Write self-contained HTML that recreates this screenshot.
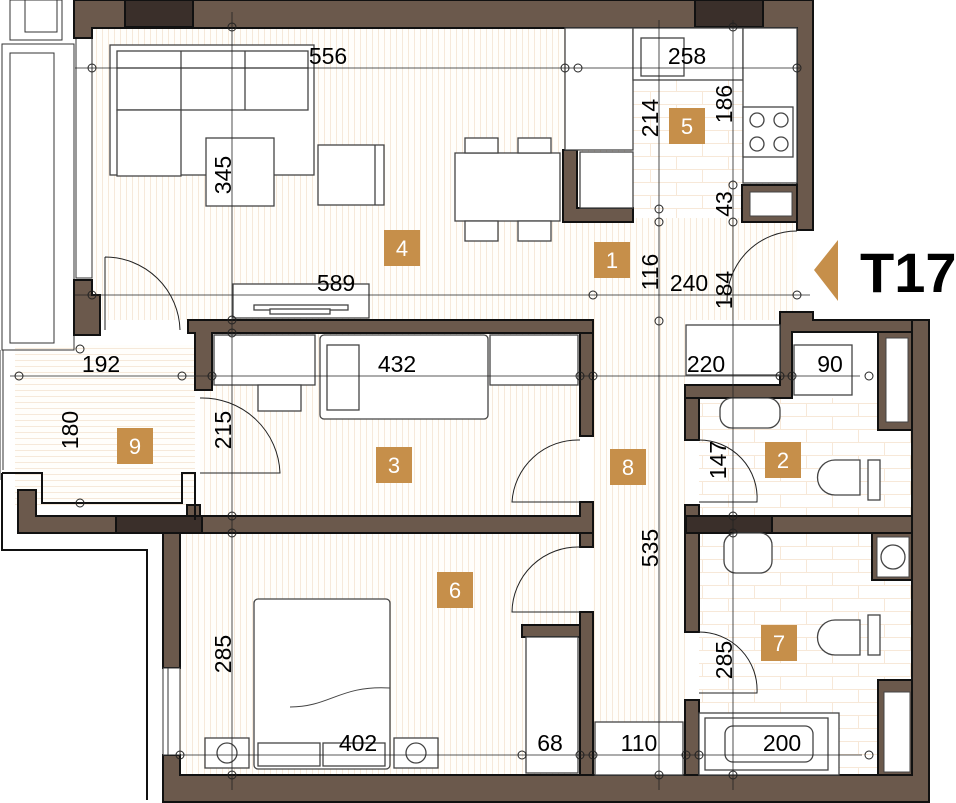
<!DOCTYPE html>
<html><head><meta charset="utf-8"><style>
html,body{margin:0;padding:0;background:#fff;}
svg{display:block;}
text{font-family:"Liberation Sans",sans-serif;}
</style></head><body>
<svg width="956" height="803" viewBox="0 0 956 803" xmlns="http://www.w3.org/2000/svg">
<defs>
<pattern id="vs" width="6" height="10" patternUnits="userSpaceOnUse"><rect width="6" height="10" fill="#fffefb"/><line x1="0.5" y1="0" x2="0.5" y2="10" stroke="#f6e9da" stroke-width="1"/></pattern>
<pattern id="hs" width="10" height="6" patternUnits="userSpaceOnUse"><rect width="10" height="6" fill="#fffefb"/><line x1="0" y1="0.5" x2="10" y2="0.5" stroke="#f6e9da" stroke-width="1"/></pattern>
<pattern id="tile" width="52" height="26" patternUnits="userSpaceOnUse"><rect width="52" height="26" fill="#fff"/><path d="M0 0.5H52M0 13.5H52M0.5 0V13M26.5 13V26" stroke="#f7e8d8" stroke-width="1" fill="none"/></pattern>
</defs>

<rect x="92" y="28" width="705" height="292" fill="url(#vs)"/>
<rect x="593" y="320" width="92" height="455" fill="url(#vs)"/>
<rect x="200" y="333" width="380" height="183" fill="url(#vs)"/>
<rect x="180" y="533" width="400" height="242" fill="url(#vs)"/>
<rect x="15" y="345" width="180" height="160" fill="url(#hs)"/>
<rect x="633" y="28" width="110" height="190" fill="url(#tile)"/>
<rect x="699" y="398" width="213" height="118" fill="url(#tile)"/>
<rect x="699" y="533" width="213" height="242" fill="url(#tile)"/>

<g fill="none" stroke="#333" stroke-width="1">
<rect x="10" y="0" width="52" height="40"/><rect x="25" y="0" width="32" height="32"/>
<rect x="2" y="44" width="72" height="306"/><rect x="10" y="53" width="44" height="290"/>
<rect x="76" y="38" width="16" height="240"/>
<line x1="0" y1="350" x2="0" y2="480"/>
<line x1="3" y1="350" x2="3" y2="470"/>
</g>

<g fill="#6b594c" stroke="#111" stroke-width="2">
<path d="M74 0H813V230H797V28H92V38H74Z"/>
<path d="M74 280H92V295H100V335H74Z"/>
<path d="M188 320H593V333H212V390H195V333H188Z"/>
<path d="M580 333H593V436H580Z"/>
<path d="M18 490H36V516H580V502H593V533H180V668H163V533H18Z"/>
<path d="M580 533H593V547H580Z"/>
<path d="M580 612H593V775H580Z"/>
<path d="M522 625H580V637H522Z"/>
<path d="M163 755H180V775H912V320H929V802H163Z"/>
<path d="M780 312H813V320H912V332H792V398H685V385H780Z"/>
<path d="M878 332H912V430H878Z" />
<path d="M872 533H912V580H872Z"/>
<path d="M878 680H912V775H878Z"/>
<path d="M685 398H699V440H685Z"/>
<path d="M685 505H699V632H685Z"/>
<path d="M685 516H912V533H685Z"/>
<path d="M685 700H699V775H685Z"/>
<path d="M563 150H577V208H633V222H563Z"/>
<path d="M742 185H797V222H742Z"/>
<path d="M187 505H200V516H187Z"/>
</g>
<g fill="#fff" stroke="#444" stroke-width="1">
<rect x="886" y="338" width="22" height="84"/>
<rect x="877" y="537" width="32" height="40"/>
<rect x="884" y="692" width="26" height="80"/>
<rect x="750" y="192" width="42" height="24"/>
</g>
<g fill="#3a2f2a" stroke="#111" stroke-width="2">
<rect x="125" y="0" width="68" height="27"/>
<rect x="695" y="0" width="68" height="27"/>
<rect x="116" y="516" width="86" height="17"/>
<rect x="686" y="516" width="86" height="17"/>
</g>
<path d="M2 473H42V503H182V473H195V520" fill="none" stroke="#111" stroke-width="2"/>
<path d="M2 473V550H147V800" fill="none" stroke="#111" stroke-width="2"/>
<rect x="163" y="668" width="17" height="87" fill="#fff" stroke="#333"/>
<line x1="168" y1="668" x2="168" y2="755" stroke="#333"/>

<g fill="#fff" stroke="#444" stroke-width="1.3">
<rect x="110" y="45" width="204" height="130"/>
<rect x="117" y="51" width="191" height="59"/>
<line x1="117" y1="68" x2="308" y2="68"/>
<line x1="181" y1="51" x2="181" y2="110"/><line x1="245" y1="51" x2="245" y2="110"/>
<rect x="117" y="110" width="64" height="66"/>
<rect x="206" y="138" width="68" height="68"/>
<rect x="318" y="145" width="66" height="60"/><line x1="375" y1="145" x2="375" y2="205"/>
<rect x="455" y="153" width="105" height="68"/>
<rect x="465" y="138" width="33" height="15"/><rect x="518" y="138" width="33" height="15"/>
<rect x="465" y="221" width="33" height="20"/><rect x="518" y="221" width="33" height="20"/>
<rect x="233" y="284" width="136" height="34"/>
<rect x="254" y="305" width="94" height="5"/><rect x="270" y="309" width="60" height="5"/>
<rect x="565" y="28" width="68" height="122"/>
<rect x="633" y="28" width="110" height="52"/><rect x="641" y="38" width="43" height="38"/>
<rect x="743" y="28" width="54" height="155"/>
<rect x="743" y="107" width="50" height="50"/>
<circle cx="757" cy="120" r="7"/><circle cx="781" cy="120" r="7"/><circle cx="757" cy="144" r="7"/><circle cx="781" cy="144" r="7"/>
<rect x="580" y="152" width="53" height="56"/>
<rect x="214" y="335" width="101" height="50"/><rect x="258" y="385" width="43" height="26"/>
<rect x="320" y="335" width="168" height="84" rx="4"/><rect x="327" y="345" width="32" height="65"/>
<rect x="490" y="335" width="88" height="50"/>
<rect x="686" y="325" width="94" height="50"/>
<rect x="794" y="345" width="58" height="50"/>
<rect x="720" y="398" width="60" height="30" rx="12"/>
<path d="M860 460H835a15 15 0 0 0 0 35H860Z"/>
<rect x="868" y="460" width="12" height="40"/>
<circle cx="893" cy="557" r="12"/>
<rect x="724" y="533" width="48" height="40" rx="12"/>
<path d="M860 620H835a15 15 0 0 0 0 35H860Z"/>
<rect x="868" y="615" width="12" height="40"/>
<rect x="699" y="713" width="140" height="62"/><rect x="705" y="718" width="123" height="52"/>
<rect x="725" y="726" width="88" height="36" rx="8"/>
<rect x="254" y="599" width="136" height="170" rx="4"/>
<rect x="258" y="743" width="62" height="23"/><rect x="323" y="743" width="62" height="23"/>
<rect x="205" y="738" width="44" height="30"/><rect x="394" y="738" width="44" height="30"/>
<circle cx="227" cy="753" r="10"/><circle cx="416" cy="753" r="10"/>
<rect x="526" y="637" width="52" height="136"/>
<rect x="595" y="722" width="88" height="53"/>
</g>
<path d="M290 707C330 707 340 685 390 688" fill="none" stroke="#444"/>
<g fill="none" stroke="#222" stroke-width="1">
<path d="M105 257A75 75 0 0 1 180 330M105 257V330"/>
<path d="M200 398A78 78 0 0 1 280 473H200"/>
<path d="M580 440A66 66 0 0 0 512 502H580"/>
<path d="M580 547A66 66 0 0 0 512 612H580"/>
<path d="M699 440A58 58 0 0 1 757 502H699"/>
<path d="M699 632A58 58 0 0 1 757 693H699"/>
<path d="M797 231A70 70 0 0 0 727 301"/>
</g>

<g stroke="#222" stroke-width="0.8" fill="none">
<line x1="75" y1="68" x2="800" y2="68"/>
<line x1="75" y1="295" x2="810" y2="295"/>
<line x1="10" y1="376" x2="860" y2="376"/>
<line x1="170" y1="755" x2="862" y2="755"/>
<line x1="232" y1="12" x2="232" y2="790"/>
<line x1="659" y1="20" x2="659" y2="790"/>
<line x1="733" y1="20" x2="733" y2="790"/>
</g>
<g fill="none" stroke="#222" stroke-width="1">
<circle cx="92" cy="68" r="4"/><circle cx="232" cy="27" r="4"/><circle cx="565" cy="68" r="4"/><circle cx="578" cy="68" r="4"/><circle cx="797" cy="68" r="4"/>
<circle cx="92" cy="295" r="4"/><circle cx="232" cy="320" r="4"/><circle cx="232" cy="333" r="4"/><circle cx="593" cy="295" r="4"/><circle cx="797" cy="295" r="4"/>
<circle cx="80" cy="349" r="4"/><circle cx="19" cy="376" r="4"/><circle cx="182" cy="376" r="4"/><circle cx="212" cy="376" r="4"/><circle cx="580" cy="376" r="4"/><circle cx="593" cy="376" r="4"/><circle cx="780" cy="376" r="4"/><circle cx="792" cy="376" r="4"/><circle cx="869" cy="376" r="4"/>
<circle cx="659" cy="209" r="4"/><circle cx="659" cy="222" r="4"/><circle cx="659" cy="321" r="4"/><circle cx="733" cy="185" r="4"/><circle cx="733" cy="222" r="4"/><circle cx="733" cy="27" r="4"/>
<circle cx="232" cy="516" r="4"/><circle cx="232" cy="533" r="4"/><circle cx="80" cy="503" r="4"/><circle cx="180" cy="755" r="4"/><circle cx="232" cy="775" r="4"/>
<circle cx="522" cy="755" r="4"/><circle cx="580" cy="755" r="4"/><circle cx="593" cy="755" r="4"/><circle cx="686" cy="755" r="4"/><circle cx="699" cy="755" r="4"/><circle cx="869" cy="755" r="4"/><circle cx="659" cy="775" r="4"/><circle cx="733" cy="775" r="4"/>
<circle cx="733" cy="516" r="4"/><circle cx="733" cy="533" r="4"/>
</g>

<g fill="#c68f4a">
<rect x="384" y="230" width="36" height="36"/><rect x="669" y="108" width="36" height="36"/>
<rect x="594" y="242" width="36" height="36"/><rect x="117" y="428" width="36" height="36"/>
<rect x="376" y="447" width="36" height="36"/><rect x="610" y="449" width="36" height="36"/>
<rect x="765" y="442" width="36" height="36"/><rect x="437" y="572" width="36" height="36"/>
<rect x="761" y="625" width="36" height="36"/>
</g>
<g fill="#fff" font-size="22" text-anchor="middle">
<text x="402" y="256">4</text><text x="687" y="134">5</text><text x="612" y="268">1</text>
<text x="135" y="454">9</text><text x="394" y="473">3</text><text x="628" y="475">8</text>
<text x="783" y="468">2</text><text x="455" y="598">6</text><text x="779" y="651">7</text>
</g>

<g fill="#000" font-size="23" text-anchor="middle">
<text x="328" y="64">556</text><text x="687" y="64">258</text>
<text x="336" y="291">589</text><text x="689" y="291">240</text>
<text x="101" y="372">192</text><text x="397" y="372">432</text>
<text x="706" y="372">220</text><text x="830" y="372">90</text>
<text x="358" y="751">402</text><text x="550" y="751">68</text>
<text x="639" y="751">110</text><text x="782" y="751">200</text>
<text transform="translate(231,175) rotate(-90)">345</text>
<text transform="translate(658,118) rotate(-90)">214</text>
<text transform="translate(732,104) rotate(-90)">186</text>
<text transform="translate(732,204) rotate(-90)">43</text>
<text transform="translate(658,272) rotate(-90)">116</text>
<text transform="translate(732,290) rotate(-90)">184</text>
<text transform="translate(231,430) rotate(-90)">215</text>
<text transform="translate(78,430) rotate(-90)">180</text>
<text transform="translate(726,460) rotate(-90)">147</text>
<text transform="translate(658,548) rotate(-90)">535</text>
<text transform="translate(231,654) rotate(-90)">285</text>
<text transform="translate(732,660) rotate(-90)">285</text>
</g>

<polygon points="814,270 838,240 838,301" fill="#c68f4a"/>
<text x="860" y="292" font-size="56" font-weight="bold" fill="#000">T17</text>
</svg>
</body></html>
